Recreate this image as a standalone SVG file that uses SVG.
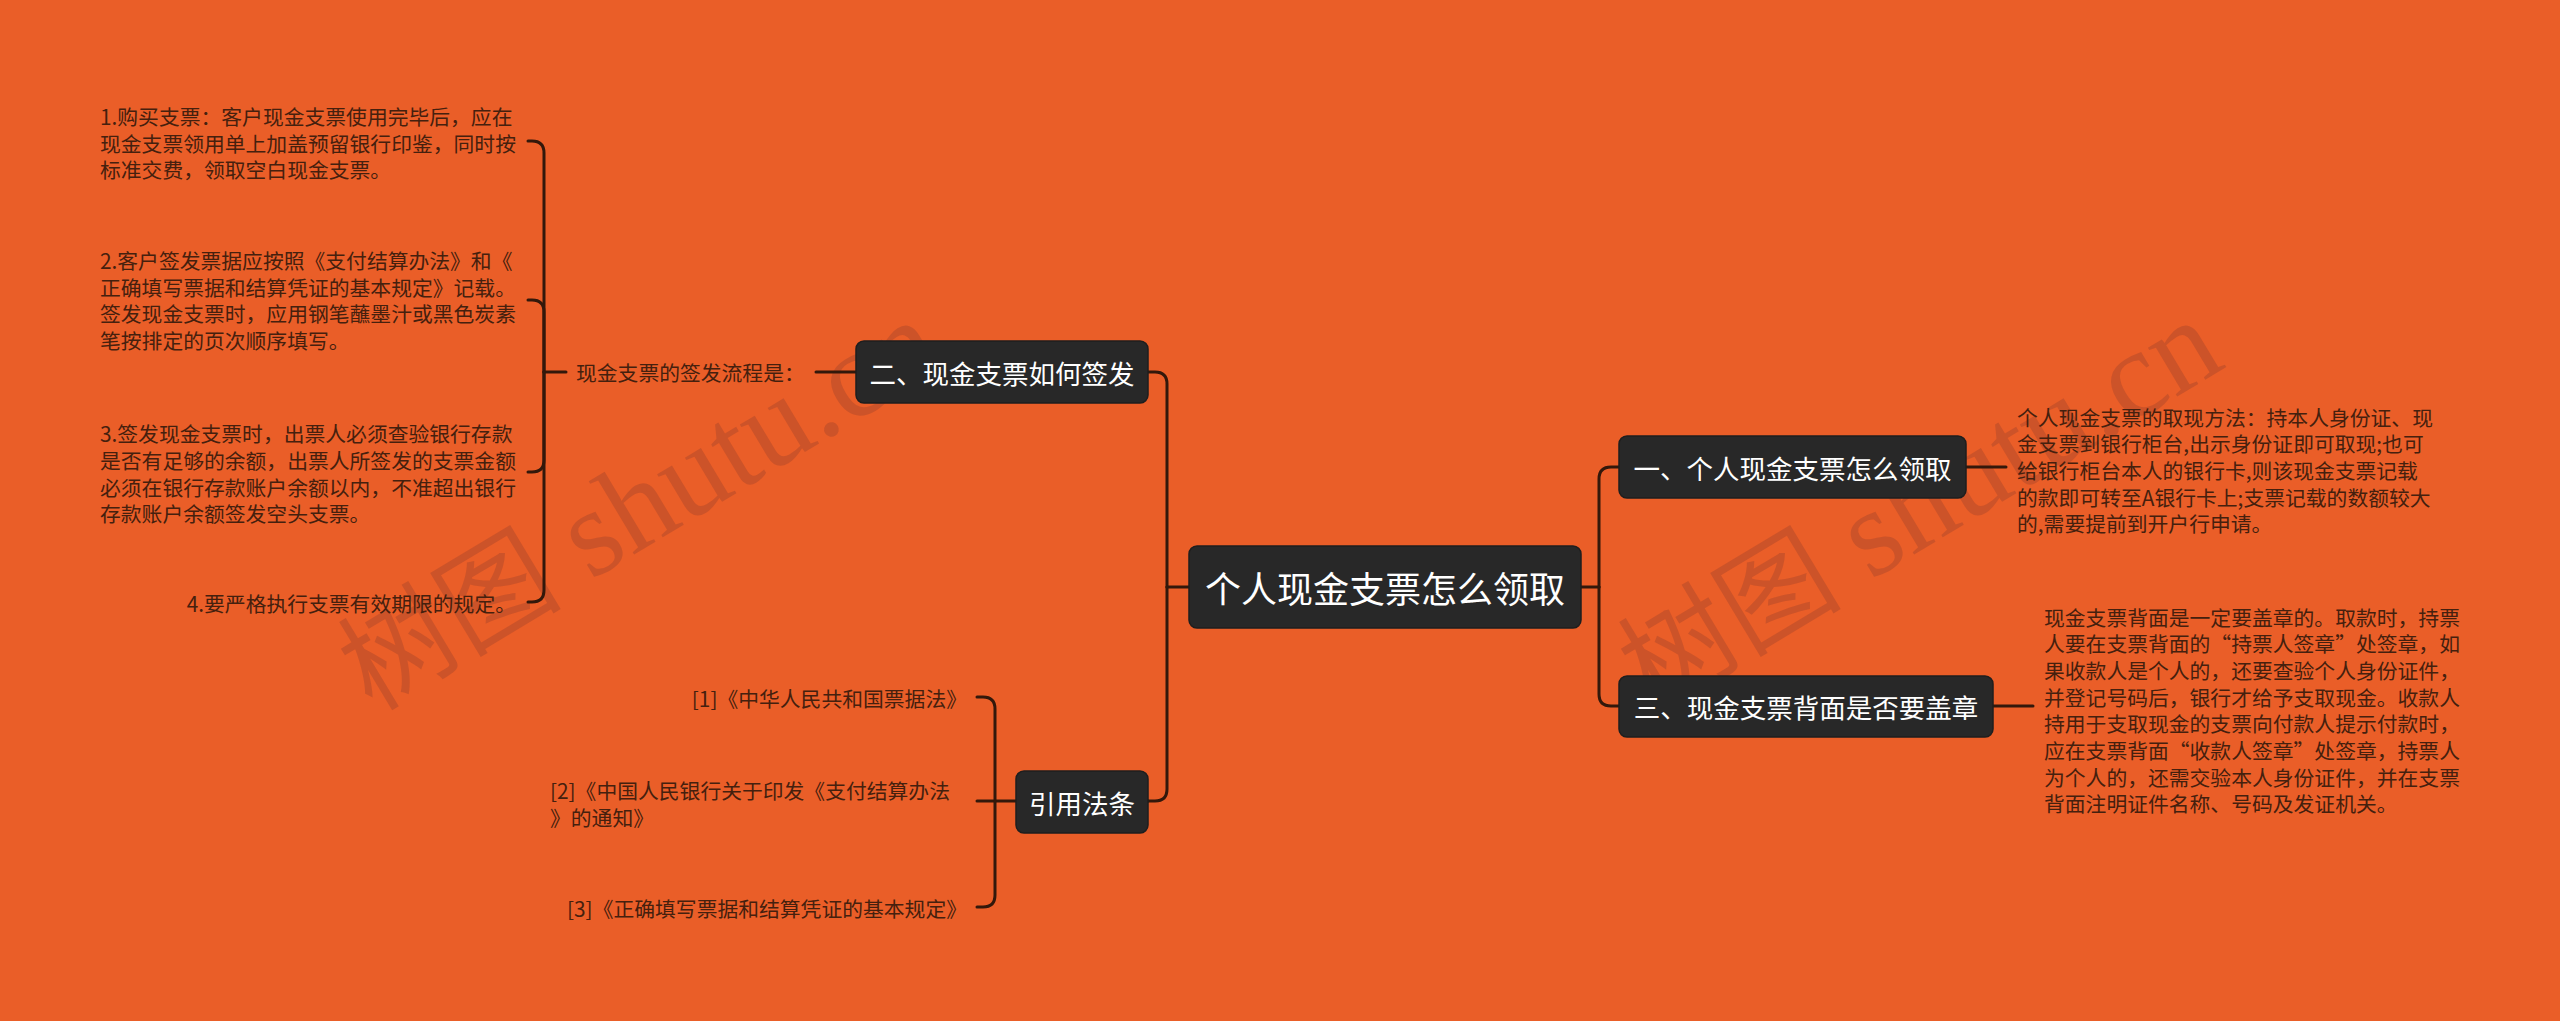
<svg xmlns="http://www.w3.org/2000/svg" width="2560" height="1021" viewBox="0 0 2560 1021">
<style>
.wm{font-family:"Liberation Serif","Noto Sans CJK SC",serif;font-size:124px;fill:#a0442a;fill-opacity:0.4}
.wm .cj{font-size:112px}
.box{fill:#282828;stroke:#1e1e1e;stroke-width:1.5}
.nt{font-family:"Noto Sans CJK SC","Noto Sans",sans-serif;fill:#ffffff;text-anchor:middle;dominant-baseline:central}
.lf{font-family:"Noto Sans CJK SC","Noto Sans",sans-serif;font-size:20.8px;fill:#45200e;dominant-baseline:central}
.conn path{fill:none;stroke:#33180b;stroke-width:3;stroke-linecap:round}
</style>
<rect width="2560" height="1021" fill="#EA5E28"/>
<g id="watermarks">
<text class="wm" x="372" y="712" transform="rotate(-31 372 712)"><tspan class="cj">树图</tspan> shutu.cn</text>
<text class="wm" x="1652" y="712" transform="rotate(-31 1652 712)"><tspan class="cj">树图</tspan> shutu.cn</text>
</g>
<g class="conn" id="connectors">
<path d="M1167 587 H1189"/>
<path d="M1148 372 H1155 Q1167 372 1167 384 V587"/>
<path d="M1167 587 V789 Q1167 801 1155 801 H1148"/>
<path d="M1581 587 H1599"/>
<path d="M1599 587 V479 Q1599 467 1611 467 H1619"/>
<path d="M1599 587 V694 Q1599 706 1611 706 H1619"/>
<path d="M856 372 H816"/>
<path d="M566 372 H544"/>
<path d="M544 372 V153 Q544 141 532 141 H528"/>
<path d="M544 372 V312 Q544 300 532 300 H528"/>
<path d="M544 372 V460 Q544 472 532 472 H528"/>
<path d="M544 372 V590 Q544 602 532 602 H528"/>
<path d="M1148 801 H977"/>
<path d="M995 801 V709 Q995 697 983 697 H977"/>
<path d="M995 801 V895 Q995 907 983 907 H977"/>
<path d="M1966 467 H2006"/>
<path d="M1993 706 H2033"/>
</g>
<g id="root">
<rect class="box" x="1189" y="546" width="392" height="82" rx="8"/>
<text class="nt" x="1385" y="587" font-size="36">个人现金支票怎么领取</text>
</g>
<g id="n2">
<rect class="box" x="856" y="341" width="292" height="62" rx="8"/>
<text class="nt" x="1002" y="372" font-size="26.5">二、现金支票如何签发</text>
</g>
<g id="n-law">
<rect class="box" x="1016" y="771" width="132" height="62" rx="8"/>
<text class="nt" x="1082" y="802" font-size="26.5">引用法条</text>
</g>
<g id="n1">
<rect class="box" x="1619" y="436" width="347" height="62" rx="8"/>
<text class="nt" x="1792.5" y="467" font-size="26.5">一、个人现金支票怎么领取</text>
</g>
<g id="n3">
<rect class="box" x="1619" y="676" width="374" height="61" rx="8"/>
<text class="nt" x="1806" y="706.5" font-size="26.5">三、现金支票背面是否要盖章</text>
</g>
<g id="flow">
<text class="lf" x="576" y="372">现金支票的签发流程是：</text>
</g>
<g id="leaf1">
<text class="lf"><tspan x="100" y="116">1.购买支票：客户现金支票使用完毕后，应在</tspan><tspan x="100" y="142.5">现金支票领用单上加盖预留银行印鉴，同时按</tspan><tspan x="100" y="169">标准交费，领取空白现金支票。</tspan></text>
</g>
<g id="leaf2">
<text class="lf"><tspan x="100" y="260">2.客户签发票据应按照《支付结算办法》和《</tspan><tspan x="100" y="286.7">正确填写票据和结算凭证的基本规定》记载。</tspan><tspan x="100" y="313.4">签发现金支票时，应用钢笔蘸墨汁或黑色炭素</tspan><tspan x="100" y="340">笔按排定的页次顺序填写。</tspan></text>
</g>
<g id="leaf3">
<text class="lf"><tspan x="100" y="433.3">3.签发现金支票时，出票人必须查验银行存款</tspan><tspan x="100" y="460">是否有足够的余额，出票人所签发的支票金额</tspan><tspan x="100" y="486.7">必须在银行存款账户余额以内，不准超出银行</tspan><tspan x="100" y="513.4">存款账户余额签发空头支票。</tspan></text>
</g>
<g id="leaf4">
<text class="lf" x="516" y="603" text-anchor="end">4.要严格执行支票有效期限的规定。</text>
</g>
<g id="law1">
<text class="lf" x="967" y="698" text-anchor="end">[1]《中华人民共和国票据法》</text>
</g>
<g id="law2">
<text class="lf"><tspan x="550" y="790">[2]《中国人民银行关于印发《支付结算办法</tspan><tspan x="550" y="816.7">》的通知》</tspan></text>
</g>
<g id="law3">
<text class="lf" x="967" y="908" text-anchor="end">[3]《正确填写票据和结算凭证的基本规定》</text>
</g>
<g id="leaf-r1">
<text class="lf"><tspan x="2017" y="416.7">个人现金支票的取现方法：持本人身份证、现</tspan><tspan x="2017" y="443.3">金支票到银行柜台,出示身份证即可取现;也可</tspan><tspan x="2017" y="470">给银行柜台本人的银行卡,则该现金支票记载</tspan><tspan x="2017" y="496.7">的款即可转至A银行卡上;支票记载的数额较大</tspan><tspan x="2017" y="523.3">的,需要提前到开户行申请。</tspan></text>
</g>
<g id="leaf-r3">
<text class="lf"><tspan x="2044" y="616.7">现金支票背面是一定要盖章的。取款时，持票</tspan><tspan x="2044" y="643.3">人要在支票背面的“持票人签章”处签章，如</tspan><tspan x="2044" y="670">果收款人是个人的，还要查验个人身份证件，</tspan><tspan x="2044" y="696.7">并登记号码后，银行才给予支取现金。收款人</tspan><tspan x="2044" y="723.3">持用于支取现金的支票向付款人提示付款时，</tspan><tspan x="2044" y="750">应在支票背面“收款人签章”处签章，持票人</tspan><tspan x="2044" y="776.7">为个人的，还需交验本人身份证件，并在支票</tspan><tspan x="2044" y="803.3">背面注明证件名称、号码及发证机关。</tspan></text>
</g>
</svg>
